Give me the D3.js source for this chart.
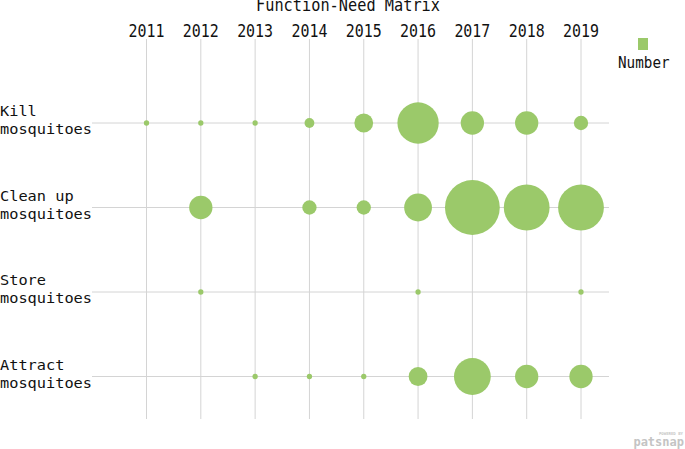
<!DOCTYPE html>
<html>
<head>
<meta charset="utf-8">
<script src="https://cdn.jsdelivr.net/npm/d3@7"></script>
<style>
  body { margin: 0; background: #fff; }
  text { font-family: "DejaVu Sans Mono", "Liberation Mono", monospace; fill: #111; }
</style>
</head>
<body>
<div id="chart"></div>
<script>
// data
var years = ['2011', '2012', '2013', '2014', '2015', '2016', '2017', '2018', '2019']
var needs = [
  ['Kill', 'mosquitoes'],
  ['Clean up', 'mosquitoes'],
  ['Store', 'mosquitoes'],
  ['Attract', 'mosquitoes']
]
var killCounts = [1, 1, 1, 2, 4, 9, 5, 5, 3]
var cleanCounts = [0, 5, 0, 3, 3, 6, 12, 10, 10]
var storeCounts = [0, 1, 0, 0, 0, 1, 0, 0, 1]
var attractCounts = [0, 0, 1, 1, 1, 4, 8, 5, 5]
var seriesName = 'Number'
var title = 'Function-Need Matrix'

var width = 685
var height = 449
var green = '#9bc96a'

var svg = d3.select('#chart')
  .append('svg')
  .attr('width', width)
  .attr('height', height)

var rows = needs.map(function(n, i) {
  return { key: i, label: n, counts: [killCounts, cleanCounts, storeCounts, attractCounts][i] }
})

// scales
var xPositionScale = d3.scalePoint()
  .domain(years)
  .range([146.5, 581])

var yPositionScale = d3.scalePoint()
  .domain(d3.range(needs.length))
  .range([123, 376.5])

var sizeScale = d3.scaleLinear()
  .domain([1, 12])
  .range([2.65, 27.4])

// helper for the narrow monospace look
function fitText(sel, charW) {
  sel.attr('textLength', function() { return this.textContent.length * charW })
    .attr('lengthAdjust', 'spacingAndGlyphs')
}

// grid
svg.append('g')
  .selectAll('line')
  .data(years)
  .enter()
  .append('line')
  .attr('x1', d => xPositionScale(d))
  .attr('x2', d => xPositionScale(d))
  .attr('y1', 39)
  .attr('y2', 419)
  .attr('stroke', '#d4d4d4')
  .attr('stroke-width', 1)

svg.append('g')
  .selectAll('line')
  .data(rows)
  .enter()
  .append('line')
  .attr('x1', 92)
  .attr('x2', 609)
  .attr('y1', d => yPositionScale(d.key))
  .attr('y2', d => yPositionScale(d.key))
  .attr('stroke', '#d4d4d4')
  .attr('stroke-width', 1)

// bubbles
var cells = []
rows.forEach(function(r) {
  r.counts.forEach(function(c, j) {
    if (c > 0) cells.push({ row: r.key, year: years[j], value: c })
  })
})

svg.append('g')
  .selectAll('circle')
  .data(cells)
  .enter()
  .append('circle')
  .attr('cx', d => xPositionScale(d.year))
  .attr('cy', d => yPositionScale(d.row))
  .attr('r', d => sizeScale(d.value))
  .attr('fill', green)

// title
svg.append('text')
  .text(title)
  .attr('x', 256)
  .attr('y', 11)
  .attr('font-size', 17)
  .call(fitText, 9.2)

// year labels
svg.append('g')
  .selectAll('text')
  .data(years)
  .enter()
  .append('text')
  .text(d => d)
  .attr('x', d => xPositionScale(d) - 18)
  .attr('y', 36.5)
  .attr('font-size', 17)
  .call(fitText, 9)

// row labels, two lines each
var labels = svg.append('g')
  .selectAll('text')
  .data(rows)
  .enter()
  .append('text')
  .attr('font-size', 14)

labels.append('tspan')
  .text(d => d.label[0])
  .attr('x', 0)
  .attr('y', d => yPositionScale(d.key) - 7)
  .call(fitText, 9.2)

labels.append('tspan')
  .text(d => d.label[1])
  .attr('x', 0)
  .attr('y', d => yPositionScale(d.key) + 11)
  .call(fitText, 9.2)

// legend
svg.append('rect')
  .attr('x', 638)
  .attr('y', 38)
  .attr('width', 10)
  .attr('height', 12)
  .attr('fill', green)

svg.append('text')
  .text(seriesName)
  .attr('x', 618)
  .attr('y', 67.5)
  .attr('font-size', 15)
  .call(fitText, 8.6)

// watermark
svg.append('text')
  .text('POWERED BY')
  .attr('x', 683)
  .attr('y', 435)
  .attr('text-anchor', 'end')
  .attr('font-family', 'Liberation Sans, sans-serif')
  .attr('font-size', 4)
  .attr('font-weight', 'bold')
  .style('fill', '#c8c8c8')

svg.append('text')
  .text('patsnap')
  .attr('x', 684)
  .attr('y', 446)
  .attr('text-anchor', 'end')
  .attr('font-family', 'Liberation Sans, sans-serif')
  .attr('font-size', 12)
  .attr('font-weight', 'bold')
  .style('fill', '#c4c4c4')
</script>
</body>
</html>
